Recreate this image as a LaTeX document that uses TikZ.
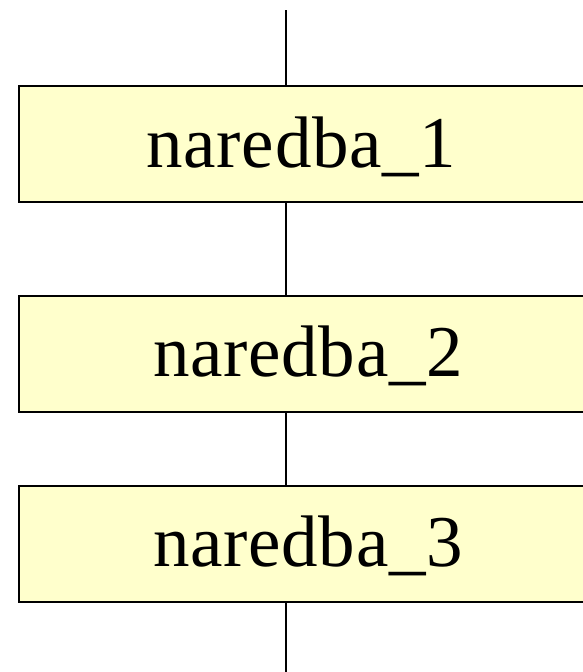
\documentclass[tikz,border=0pt]{standalone}
\usepackage{fontspec}
\setmainfont{Liberation Serif}
\newfontfamily\boxfont[LetterSpace=1]{Liberation Serif}
\definecolor{boxfill}{HTML}{FFFFCC}
\begin{document}
\begin{tikzpicture}[x=1pt,y=-1pt,
  stmt/.style={draw=black, line width=2pt, fill=boxfill, rectangle,
    inner sep=0pt, minimum height=116pt, text height=46pt, text depth=0pt,
    font=\boxfont\fontsize{73}{76}\selectfont},
  link/.style={draw=black, line width=2pt}]
\useasboundingbox (0,0) rectangle (583,672);
\node[stmt, minimum width=565pt, anchor=north west] (b1) at (18,85) {naredba\_1};
\node[stmt, minimum width=578pt, anchor=north west] (b2) at (18,294.5) {naredba\_2};
\node[stmt, minimum width=578pt, anchor=north west] (b3) at (18,484.5) {naredba\_3};
\coordinate (top) at (286,10);
\coordinate (bot) at (286,680);
\draw[link] (top) -- (top |- b1.north);
\draw[link] (top |- b1.south) -- (top |- b2.north);
\draw[link] (top |- b2.south) -- (top |- b3.north);
\draw[link] (top |- b3.south) -- (bot);
\end{tikzpicture}
\end{document}
